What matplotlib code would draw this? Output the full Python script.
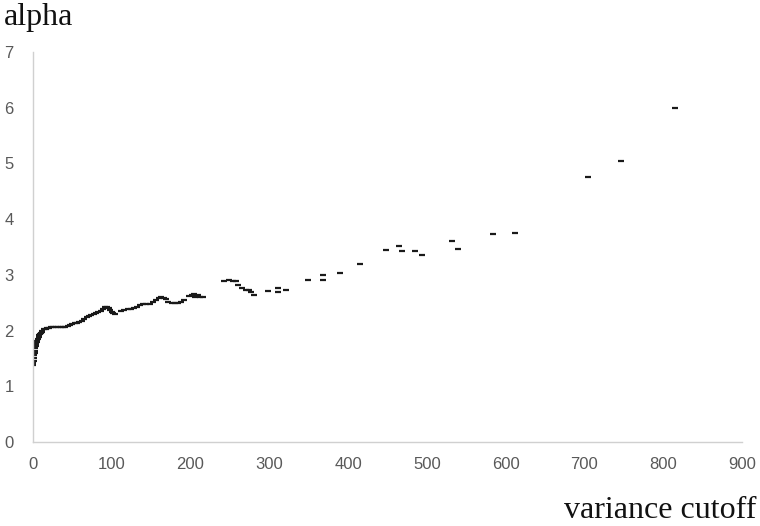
import matplotlib
matplotlib.use("Agg")
import matplotlib.pyplot as plt

# variance cutoff (x) and alpha (y)
cutoff = [
    0.3, 0.6, 1.0, 1.4, 1.8, 2.2, 2.6, 3.0, 3.5, 4.0, 4.5, 5.0, 6.0, 7.0, 8.0, 9.0,
    10, 11, 12, 14, 16, 18, 20, 23, 26, 29, 32, 35, 38, 41, 44, 47, 50, 53, 56, 59,
    62, 65, 68, 71, 74, 77, 80, 83, 86, 89, 92, 94, 96, 98, 100, 102, 104,
    112, 116, 120, 124, 128, 132, 136, 140, 144, 148, 152, 156, 160, 163, 166, 169,
    172, 176, 180, 184, 188, 192, 198, 202, 205, 206, 209, 212, 216,
    243, 249, 254, 258, 260, 265, 270, 274, 277, 281,
    298, 311, 311, 321, 349, 368, 368, 390, 415, 448, 464, 469, 485, 494,
    532, 539, 584, 612, 704, 746, 815,
]
alpha = [
    1.38, 1.42, 1.46, 1.51, 1.56, 1.60, 1.64, 1.68, 1.72, 1.76, 1.79, 1.81, 1.85, 1.89, 1.92, 1.94,
    1.96, 1.98, 1.99, 2.02, 2.03, 2.04, 2.05, 2.06, 2.06, 2.06, 2.06, 2.06, 2.07, 2.07, 2.08, 2.10, 2.12, 2.13, 2.14, 2.16,
    2.18, 2.21, 2.24, 2.26, 2.28, 2.29, 2.31, 2.33, 2.36, 2.39, 2.42, 2.43, 2.40, 2.37, 2.34, 2.31, 2.30,
    2.35, 2.37, 2.38, 2.39, 2.40, 2.43, 2.46, 2.47, 2.48, 2.48, 2.51, 2.55, 2.59, 2.61, 2.59, 2.56,
    2.52, 2.50, 2.49, 2.50, 2.52, 2.55, 2.62, 2.64, 2.66, 2.60, 2.63, 2.61, 2.61,
    2.885, 2.90, 2.89, 2.885, 2.81, 2.76, 2.73, 2.73, 2.69, 2.63,
    2.71, 2.77, 2.70, 2.72, 2.91, 3.00, 2.91, 3.03, 3.19, 3.45, 3.52, 3.42, 3.43, 3.36,
    3.60, 3.46, 3.73, 3.76, 4.76, 5.04, 6.00,
]

x_ticks = [0, 100, 200, 300, 400, 500, 600, 700, 800, 900]
y_ticks = [0, 1, 2, 3, 4, 5, 6, 7]

fig = plt.figure(figsize=(7.6, 5.26), dpi=100)
ax = fig.add_axes([33 / 760, 1 - 442 / 526, 709 / 760, 390 / 526])

ax.plot(cutoff, alpha, linestyle="none", marker="_", markersize=5.0,
        markeredgewidth=1.6, color="#1a1a1a")

ax.set_xlim(0, 900)
ax.set_ylim(0, 7)
ax.set_xticks(x_ticks)
ax.set_yticks(y_ticks)

tick_font = ["Liberation Sans Narrow", "Liberation Sans", "DejaVu Sans"]
for lab in ax.get_xticklabels() + ax.get_yticklabels():
    lab.set_family(tick_font)
    lab.set_fontsize(12)
    lab.set_color("#595959")

ax.tick_params(axis="both", length=0)
ax.tick_params(axis="x", pad=11)
ax.tick_params(axis="y", pad=14)

for side in ("top", "right"):
    ax.spines[side].set_visible(False)
for side in ("left", "bottom"):
    ax.spines[side].set_color("#d0d0d0")
    ax.spines[side].set_linewidth(1.0)

fig.text(4 / 760, 1 - 17 / 526, "alpha", family=["Liberation Serif", "DejaVu Serif"],
         fontsize=23, color="#111111", va="center", ha="left")
fig.text(756 / 760, 1 - 510 / 526, "variance cutoff", family=["Liberation Serif", "DejaVu Serif"],
         fontsize=23, color="#111111", va="center", ha="right")

fig.savefig("out.png", dpi=100)
